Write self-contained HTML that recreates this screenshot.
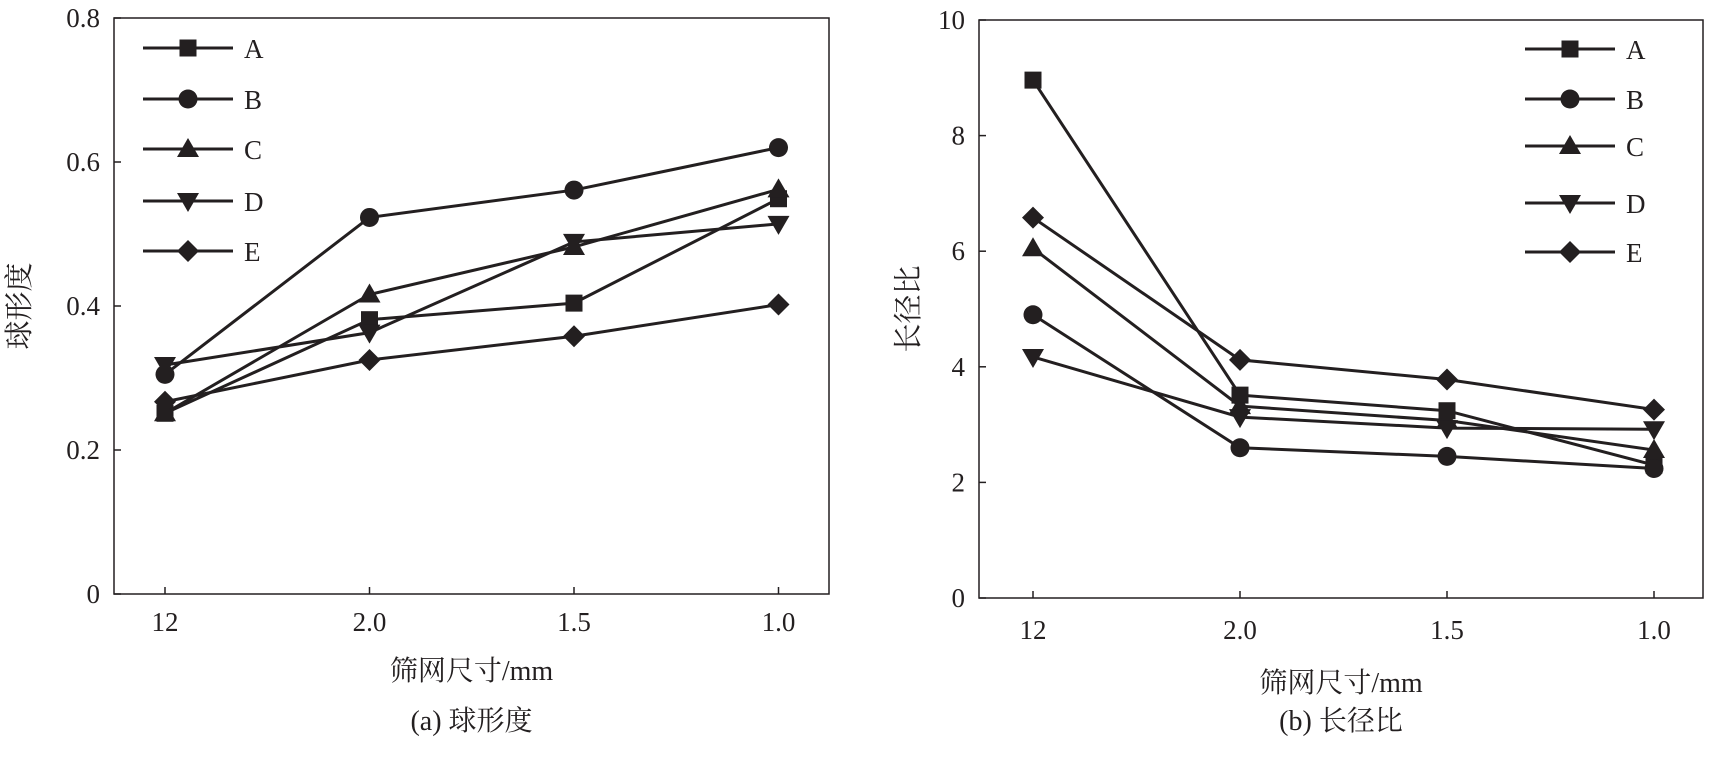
<!DOCTYPE html>
<html><head><meta charset="utf-8"><style>
body{margin:0;background:#fff}
svg{display:block}
text{font-family:"Liberation Serif","Noto Serif CJK SC",serif;fill:#231f20}
</style></head><body>
<svg id="s" width="1712" height="757"></svg>
<script>
const categories=["12","2.0","1.5","1.0"];
const seriesNames=["A","B","C","D","E"];
const markers=["square","circle","triangle","down","diamond"];
const sphA=[0.251,0.381,0.404,0.549];
const sphB=[0.305,0.523,0.561,0.620];
const sphC=[0.251,0.416,0.482,0.562];
const sphD=[0.318,0.363,0.489,0.514];
const sphE=[0.267,0.325,0.358,0.402];
const arA=[8.96,3.51,3.24,2.30];
const arB=[4.90,2.60,2.45,2.24];
const arC=[6.05,3.32,3.07,2.56];
const arD=[4.17,3.13,2.94,2.92];
const arE=[6.58,4.12,3.78,3.26];
const ticksL=[0,0.2,0.4,0.6,0.8];
const tickLabelsL=["0","0.2","0.4","0.6","0.8"];
const ticksR=[0,2,4,6,8,10];
const tickLabelsR=["0","2","4","6","8","10"];
const NS="http://www.w3.org/2000/svg";
const svg=document.getElementById('s');
function el(t,a,p){const e=document.createElementNS(NS,t);for(const k in a)e.setAttribute(k,a[k]);(p||svg).appendChild(e);return e;}
function marker(g,type,x,y){
  let e;
  if(type==="square")e=el('rect',{x:x-8.5,y:y-8.5,width:17,height:17,fill:'#231f20'},g);
  else if(type==="circle")e=el('circle',{cx:x,cy:y,r:9.5,fill:'#231f20'},g);
  else if(type==="triangle")e=el('polygon',{points:`${x},${y-11} ${x+11},${y+8} ${x-11},${y+8}`,fill:'#231f20'},g);
  else if(type==="down")e=el('polygon',{points:`${x},${y+11} ${x+11},${y-8} ${x-11},${y-8}`,fill:'#231f20'},g);
  else e=el('polygon',{points:`${x},${y-11} ${x+11},${y} ${x},${y+11} ${x-11},${y}`,fill:'#231f20'},g);
  
  
}
function chart(o){
  const g=el('g',{});
  
  
  const xs=i=>o.xPos[0]+(o.xPos[1]-o.xPos[0])*i;
  const ys=v=>o.bottom-(v-o.ymin)/(o.ymax-o.ymin)*(o.bottom-o.top);
  const f=el('rect',{x:o.left,y:o.top,width:o.right-o.left,height:o.bottom-o.top,fill:'none',stroke:'#231f20','stroke-width':1.5},g);
  
  o.ticks.forEach((v,i)=>{
    el('line',{x1:o.left,x2:o.left+7,y1:ys(v),y2:ys(v),stroke:'#231f20','stroke-width':1.5},g);
    const t=el('text',{x:o.left-14,y:ys(v)+9,'text-anchor':'end','font-size':27},g);t.textContent=o.tickLabels[i];
    
  });
  categories.forEach((c,i)=>{
    el('line',{x1:xs(i),x2:xs(i),y1:o.bottom,y2:o.bottom-7,stroke:'#231f20','stroke-width':1.5},g);
    const t=el('text',{x:xs(i),y:o.tickY,'text-anchor':'middle','font-size':27},g);t.textContent=c;
    
  });
  o.series.forEach((d,s)=>{
    const p=el('polyline',{points:d.map((v,i)=>xs(i)+','+ys(v)).join(' '),fill:'none',stroke:'#231f20','stroke-width':3},g);
    
    d.forEach((v,i)=>marker(g,markers[s],xs(i),ys(v)));
    const ly=o.legY[s];
    const l=el('line',{x1:o.legX[0],x2:o.legX[1],y1:ly,y2:ly,stroke:'#231f20','stroke-width':3},g);
    
    marker(g,markers[s],(o.legX[0]+o.legX[1])/2,ly);
    const t=el('text',{x:o.legX[1]+11,y:ly+10,'font-size':27},g);t.textContent=seriesNames[s];
    
  });
  let t=el('text',{x:(o.left+o.right)/2,y:o.titleY,'text-anchor':'middle','font-size':28},g);t.textContent='筛网尺寸/mm';
  
  t=el('text',{x:(o.left+o.right)/2,y:730,'text-anchor':'middle','font-size':28},g);t.textContent=o.caption;
  
  t=el('text',{x:0,y:0,'text-anchor':'middle','font-size':29,transform:`translate(${o.ytX},${(o.top+o.bottom)/2}) rotate(-90)`},g);t.textContent=o.ytitle;
  
}
chart({name:'sphericity-chart',left:114,right:829,top:18,bottom:594,xPos:[165,369.5],ymin:0,ymax:0.8,ticks:ticksL,tickLabels:tickLabelsL,series:[sphA,sphB,sphC,sphD,sphE],legX:[143,233],legY:[48,99,149,201,251],tickY:631,titleY:680,caption:'(a) 球形度',ytitle:'球形度',ytX:29});
chart({name:'aspect-ratio-chart',left:979,right:1703,top:20,bottom:598,xPos:[1033,1240],ymin:0,ymax:10,ticks:ticksR,tickLabels:tickLabelsR,series:[arA,arB,arC,arD,arE],legX:[1525,1615],legY:[49,99,146,203,252],tickY:639,titleY:692,caption:'(b) 长径比',ytitle:'长径比',ytX:918});
</script>
</body></html>
